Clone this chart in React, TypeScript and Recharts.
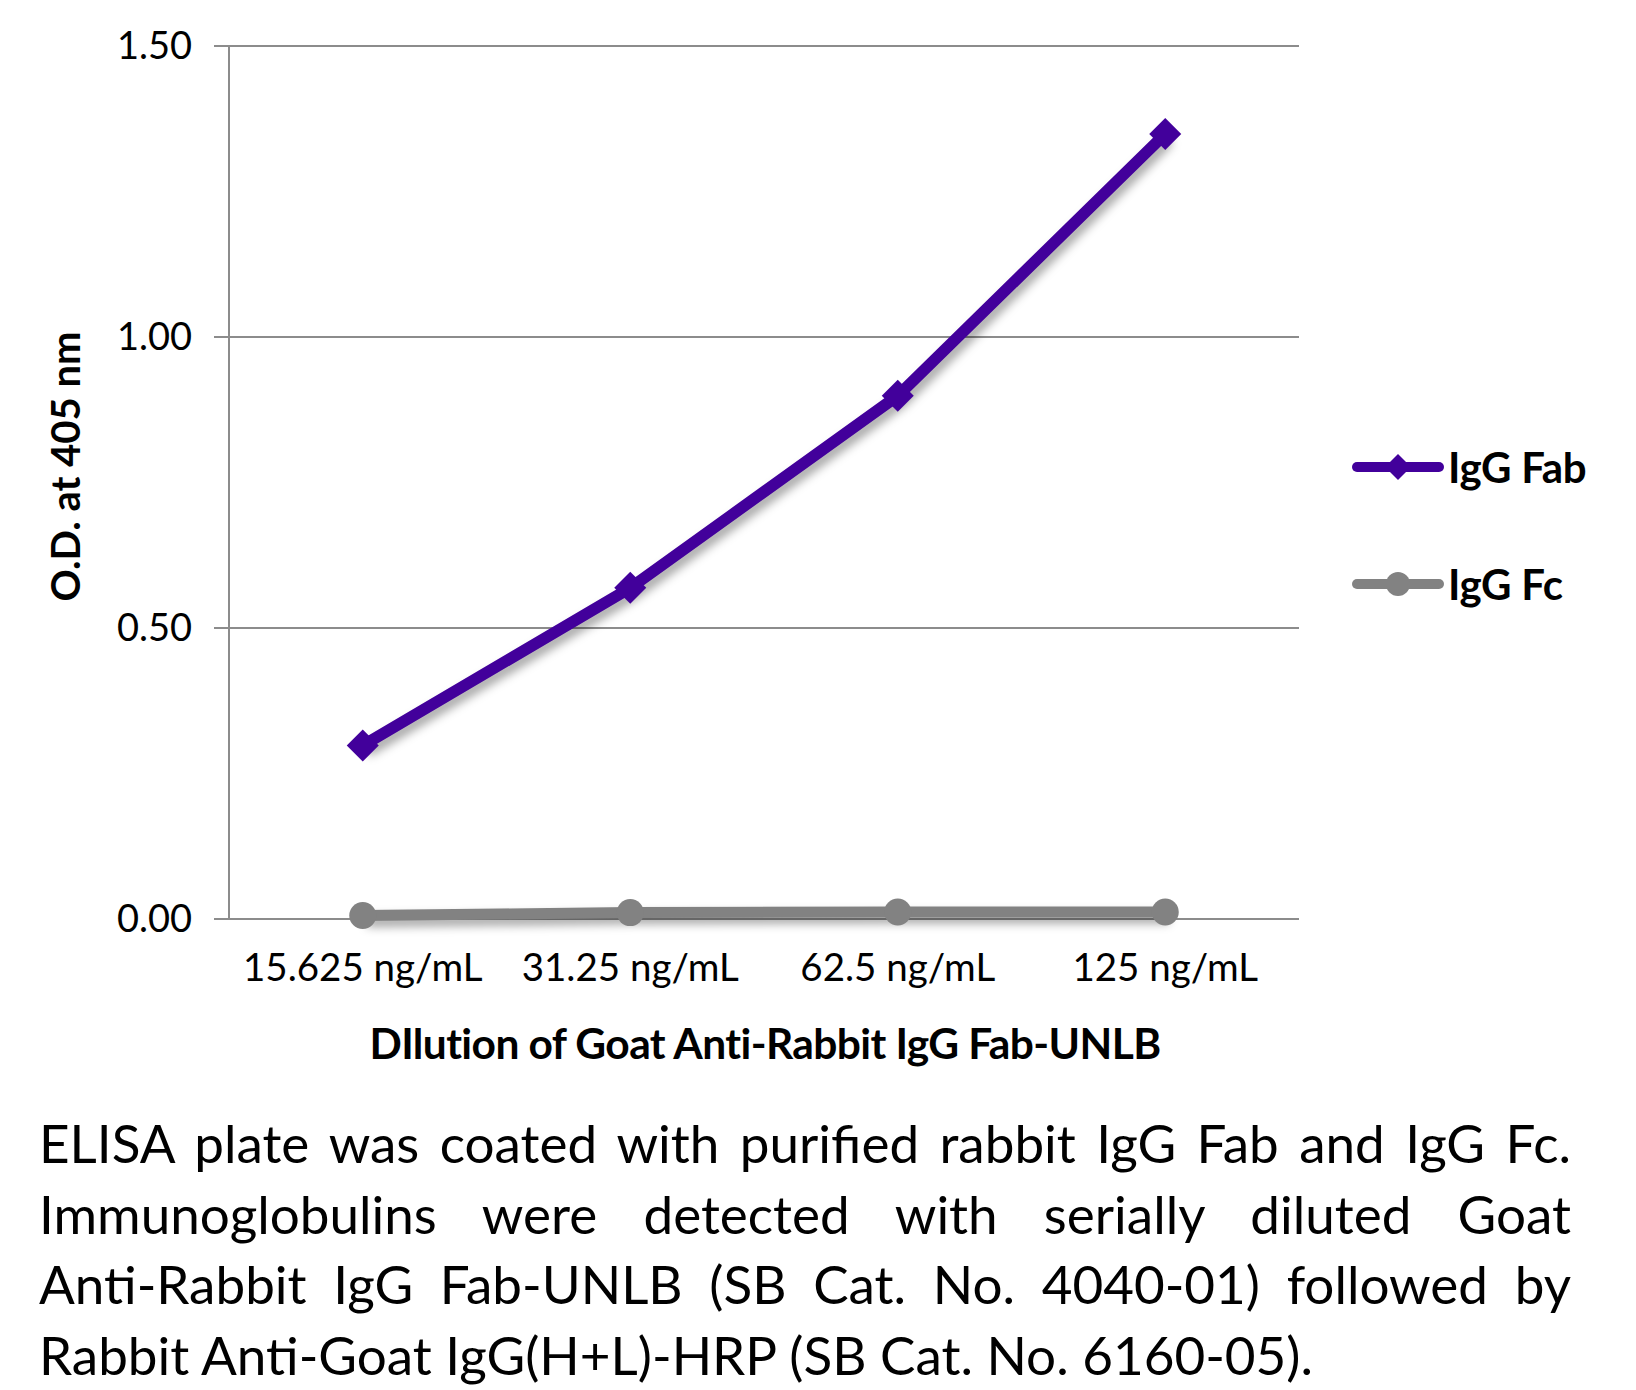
import { LineChart, Line, XAxis, YAxis, CartesianGrid } from 'recharts'

const dilutions = ['15.625 ng/mL', '31.25 ng/mL', '62.5 ng/mL', '125 ng/mL']
const igGFab = [0.298, 0.569, 0.899, 1.349]
const igGFc = [0.006, 0.011, 0.012, 0.012]
const yTicks = [0, 0.5, 1, 1.5]
const bandEdges = [0, 1, 2, 3, 4]

const FAB_COLOR = '#42009b'
const FC_COLOR = '#828282'
const AXIS_COLOR = '#8c8c8c'
const FONT = 'Lato, "Open Sans", sans-serif'

const data = dilutions.map((d, i) => ({ dilution: d, fab: igGFab[i], fc: igGFc[i] }))

const series = [
    { key: 'fab', name: 'IgG Fab', color: FAB_COLOR, shape: 'diamond' },
    { key: 'fc', name: 'IgG Fc', color: FC_COLOR, shape: 'circle' },
]

const Diamond = (props: any) => {
    const { cx, cy } = props
    if (cx == null || cy == null) return null
    const r = 16
    return (
        <polygon
            points={`${cx},${cy - r} ${cx + r},${cy} ${cx},${cy + r} ${cx - r},${cy}`}
            fill={FAB_COLOR}
        />
    )
}

const Dot = (props: any) => {
    const { cx, cy } = props
    if (cx == null || cy == null) return null
    return <circle cx={cx} cy={cy} r={13.5} fill={FC_COLOR} />
}

const YTitle = (props: any) => {
    const { x, y, height } = props.viewBox
    const cx = x + 65
    const cy = y + height / 2 - 16
    return (
        <text
            x={cx}
            y={cy}
            transform={`rotate(-90, ${cx}, ${cy})`}
            textAnchor="middle"
            dominantBaseline="central"
            style={{ fontFamily: FONT, fontWeight: 700, fontSize: 40, fill: '#000' }}
        >
            O.D. at 405 nm
        </text>
    )
}

const XTitle = (props: any) => {
    const { x, y, width } = props.viewBox
    return (
        <text
            x={x + width / 2 + 1}
            y={y + 140}
            textAnchor="middle"
            style={{ fontFamily: FONT, fontWeight: 700, fontSize: 42.5, fill: '#000', letterSpacing: -0.6 }}
        >
            DIlution of Goat Anti-Rabbit IgG Fab-UNLB
        </text>
    )
}

const LegendBox = () => (
    <div style={{ position: 'absolute', left: 1352, top: 444, fontFamily: FONT }}>
        {series.map((s, i) => (
            <div
                key={s.key}
                style={{ display: 'flex', alignItems: 'center', height: 46, marginTop: i === 0 ? 0 : 71 }}
            >
                <svg width={92} height={40}>
                    <line x1={5} y1={20} x2={87} y2={20} stroke={s.color} strokeWidth={10} strokeLinecap="round" />
                    {s.shape === 'diamond' ? (
                        <polygon points="46,7 59,20 46,33 33,20" fill={s.color} />
                    ) : (
                        <circle cx={46} cy={20} r={12} fill={s.color} />
                    )}
                </svg>
                <span style={{ fontWeight: 700, fontSize: 42, marginLeft: 4, letterSpacing: -0.3 }}>{s.name}</span>
            </div>
        ))}
    </div>
)

const caption = [
    'ELISA plate was coated with purified rabbit IgG Fab and IgG Fc.',
    'Immunoglobulins were detected with serially diluted Goat',
    'Anti-Rabbit IgG Fab-UNLB (SB Cat. No. 4040-01) followed by',
    'Rabbit Anti-Goat IgG(H+L)-HRP (SB Cat. No. 6160-05).',
]

export default function App() {
    return (
        <div style={{ position: 'absolute', left: 0, top: 0, width: 1636, height: 1390, background: '#fff' }}>
            <style>{`.shadowed { filter: drop-shadow(4px 6px 5px rgba(0,0,0,0.35)); }`}</style>
            <LineChart
                width={1636}
                height={1100}
                data={data}
                margin={{ top: 46, right: 337, left: 0, bottom: 0 }}
            >
                <CartesianGrid vertical={false} stroke={AXIS_COLOR} strokeWidth={2} />
                <XAxis
                    xAxisId="edges"
                    type="number"
                    domain={[0, 4]}
                    ticks={bandEdges}
                    tick={false}
                    tickSize={15}
                    height={0}
                    stroke={AXIS_COLOR}
                    axisLine={{ stroke: AXIS_COLOR, strokeWidth: 2 }}
                    tickLine={{ stroke: AXIS_COLOR, strokeWidth: 2 }}
                />
                <XAxis
                    dataKey="dilution"
                    height={181}
                    axisLine={false}
                    tickLine={false}
                    tickSize={0}
                    tickMargin={35}
                    padding={{ left: 133.75, right: 133.75 }}
                    interval={0}
                    tick={{ fill: '#000', fontSize: 38.5, fontFamily: FONT }}
                    label={<XTitle />}
                />
                <YAxis
                    width={229}
                    domain={[0, 1.5]}
                    ticks={yTicks}
                    tickFormatter={(v: number) => v.toFixed(2)}
                    tickSize={15}
                    tickMargin={22}
                    axisLine={{ stroke: AXIS_COLOR, strokeWidth: 2 }}
                    tickLine={{ stroke: AXIS_COLOR, strokeWidth: 2 }}
                    tick={{ fill: '#000', fontSize: 38, fontFamily: FONT }}
                    label={<YTitle />}
                />
                <Line
                    className="shadowed"
                    dataKey="fc"
                    name="IgG Fc"
                    stroke={FC_COLOR}
                    strokeWidth={11}
                    dot={<Dot />}
                    activeDot={false}
                    isAnimationActive={false}
                />
                <Line
                    className="shadowed"
                    dataKey="fab"
                    name="IgG Fab"
                    stroke={FAB_COLOR}
                    strokeWidth={11.5}
                    dot={<Diamond />}
                    activeDot={false}
                    isAnimationActive={false}
                />
            </LineChart>
            <LegendBox />
            <div
                style={{
                    position: 'absolute',
                    left: 39,
                    top: 1108,
                    width: 1532,
                    fontFamily: FONT,
                    fontSize: 53,
                    lineHeight: '70.5px',
                    color: '#000',
                }}
            >
                {caption.map((line, i) => (
                    <div
                        key={i}
                        style={{
                            whiteSpace: 'nowrap',
                            textAlign: 'justify',
                            textAlignLast: i < caption.length - 1 ? 'justify' : 'left',
                        }}
                    >
                        {line}
                    </div>
                ))}
            </div>
        </div>
    )
}
